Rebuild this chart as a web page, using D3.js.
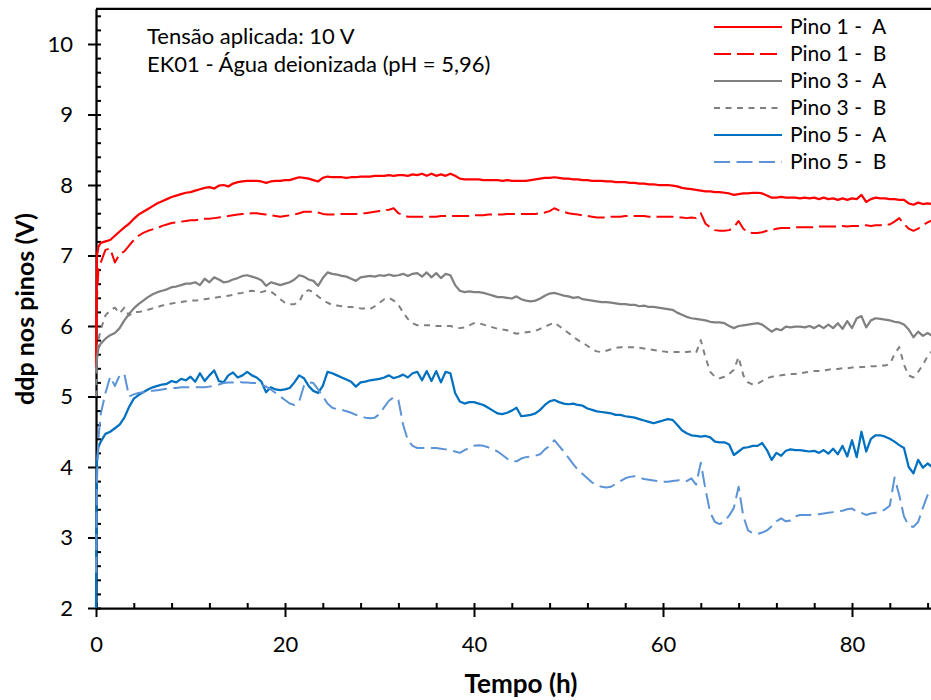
<!DOCTYPE html>
<html>
<head>
<meta charset="utf-8">
<script src="https://cdn.jsdelivr.net/npm/d3@7"></script>
<style>
  html, body { margin: 0; padding: 0; background: #fff; }
  svg { display: block; }
  text { font-family: Lato, "Open Sans", sans-serif; fill: #000; }
</style>
</head>
<body>
<svg id="chart" width="931" height="700"></svg>
<script>
// Sampling grid (hours): a few early readings, then every half hour
const hours = [0, 0.1, 0.25].concat(d3.range(0.5, 88.51, 0.5));

const pino1A = [5.4, 7.0, 7.12,
  7.18, 7.2, 7.22, 7.28, 7.34, 7.4, 7.45, 7.52, 7.58, 7.62, 7.66, 7.7, 7.74, 7.77, 7.8, 7.83, 7.85, 7.87, 7.89, 7.9,
  7.92, 7.94, 7.96, 7.97, 7.95, 7.99, 8.0, 7.98, 8.02, 8.04, 8.05, 8.06, 8.06, 8.06, 8.05, 8.03, 8.05, 8.06, 8.06, 8.07,
  8.07, 8.09, 8.11, 8.1, 8.09, 8.07, 8.05, 8.1, 8.12, 8.11, 8.11, 8.11, 8.1, 8.11, 8.11, 8.12, 8.12, 8.12, 8.13, 8.13,
  8.13, 8.14, 8.13, 8.14, 8.14, 8.13, 8.15, 8.14, 8.16, 8.13, 8.16, 8.13, 8.15, 8.13, 8.16, 8.13, 8.09, 8.08, 8.08, 8.08,
  8.08, 8.07, 8.07, 8.07, 8.07, 8.06, 8.07, 8.06, 8.06, 8.06, 8.06, 8.07, 8.08, 8.09, 8.1, 8.1, 8.11, 8.1, 8.09, 8.09,
  8.08, 8.08, 8.07, 8.07, 8.06, 8.06, 8.06, 8.05, 8.05, 8.04, 8.04, 8.04, 8.03, 8.03, 8.02, 8.02, 8.01, 8.01, 8.0, 8.0,
  8.0, 7.99, 7.98, 7.96, 7.95, 7.94, 7.93, 7.92, 7.91, 7.91, 7.9, 7.9, 7.89, 7.88, 7.86, 7.87, 7.88, 7.88, 7.89, 7.89,
  7.88, 7.85, 7.82, 7.82, 7.83, 7.82, 7.82, 7.82, 7.81, 7.82, 7.81, 7.82, 7.8, 7.82, 7.8, 7.81, 7.79, 7.81, 7.79, 7.81,
  7.8, 7.86, 7.76, 7.8, 7.82, 7.81, 7.81, 7.8, 7.8, 7.79, 7.79, 7.74, 7.72, 7.75, 7.73, 7.74, 7.73];

const pino1B = [5.6, 6.4, 6.8,
  6.9, 7.08, 7.1, 6.9, 7.02, 7.06, 7.14, 7.22, 7.28, 7.32, 7.35, 7.37, 7.39, 7.42, 7.44, 7.46, 7.47, 7.48, 7.49, 7.5,
  7.5, 7.51, 7.52, 7.52, 7.53, 7.54, 7.55, 7.56, 7.57, 7.58, 7.59, 7.59, 7.6, 7.6, 7.59, 7.58, 7.57, 7.56, 7.55, 7.56,
  7.57, 7.58, 7.6, 7.62, 7.62, 7.62, 7.61, 7.59, 7.58, 7.58, 7.58, 7.59, 7.59, 7.59, 7.59, 7.6, 7.6, 7.61, 7.62, 7.63,
  7.64, 7.65, 7.67, 7.6, 7.57, 7.55, 7.55, 7.55, 7.55, 7.55, 7.55, 7.55, 7.56, 7.56, 7.56, 7.56, 7.56, 7.56, 7.56, 7.57,
  7.57, 7.57, 7.58, 7.58, 7.58, 7.58, 7.59, 7.59, 7.59, 7.59, 7.59, 7.59, 7.59, 7.6, 7.61, 7.63, 7.67, 7.64, 7.62, 7.6,
  7.59, 7.58, 7.57, 7.56, 7.55, 7.54, 7.54, 7.54, 7.55, 7.55, 7.55, 7.56, 7.56, 7.56, 7.56, 7.56, 7.55, 7.55, 7.55, 7.55,
  7.55, 7.55, 7.54, 7.54, 7.53, 7.54, 7.53, 7.6, 7.45, 7.4, 7.36, 7.35, 7.35, 7.36, 7.4, 7.49, 7.38, 7.33, 7.32, 7.32,
  7.33, 7.35, 7.36, 7.38, 7.39, 7.39, 7.39, 7.4, 7.4, 7.4, 7.4, 7.4, 7.41, 7.41, 7.41, 7.41, 7.41, 7.42, 7.41, 7.42,
  7.42, 7.42, 7.43, 7.42, 7.43, 7.43, 7.44, 7.44, 7.48, 7.53, 7.45, 7.38, 7.35, 7.38, 7.43, 7.47, 7.5];

const pino3A = [5.35, 5.55, 5.68,
  5.75, 5.82, 5.87, 5.9, 5.97, 6.08, 6.17, 6.25, 6.31, 6.36, 6.41, 6.45, 6.48, 6.5, 6.52, 6.55, 6.56, 6.58, 6.6, 6.6,
  6.62, 6.58, 6.67, 6.62, 6.69, 6.66, 6.62, 6.63, 6.66, 6.68, 6.71, 6.72, 6.7, 6.68, 6.65, 6.57, 6.62, 6.6, 6.58, 6.6,
  6.62, 6.66, 6.72, 6.7, 6.66, 6.64, 6.57, 6.68, 6.76, 6.74, 6.73, 6.71, 6.7, 6.67, 6.64, 6.69, 6.7, 6.71, 6.7, 6.72,
  6.71, 6.73, 6.71, 6.72, 6.74, 6.71, 6.74, 6.75, 6.7, 6.76, 6.69, 6.75, 6.68, 6.74, 6.72, 6.58, 6.5, 6.48, 6.49, 6.48,
  6.48, 6.47, 6.45, 6.43, 6.41, 6.41, 6.4, 6.39, 6.42, 6.38, 6.36, 6.35, 6.36, 6.39, 6.43, 6.46, 6.47, 6.45, 6.43, 6.42,
  6.4, 6.41, 6.38, 6.37, 6.36, 6.35, 6.34, 6.34, 6.33, 6.32, 6.31, 6.31, 6.3, 6.3, 6.28, 6.29, 6.27, 6.27, 6.26, 6.25,
  6.24, 6.23, 6.19, 6.16, 6.13, 6.11, 6.1, 6.09, 6.08, 6.06, 6.05, 6.05, 6.04, 6.0, 5.97, 6.0, 6.01, 6.02, 6.03, 6.04,
  6.02, 5.97, 5.92, 5.96, 5.94, 5.99, 5.98, 5.99, 5.99, 5.98, 6.0, 5.97, 6.01, 5.97, 6.02, 5.97, 6.04, 5.96, 6.07, 5.97,
  6.11, 6.14, 5.98, 6.08, 6.11, 6.1, 6.09, 6.08, 6.06, 6.05, 6.02, 5.95, 5.84, 5.92, 5.86, 5.9, 5.86];

const pino3B = [5.0, 5.5, 5.8,
  5.95, 6.15, 6.22, 6.26, 6.18, 6.26, 6.15, 6.2, 6.2, 6.21, 6.23, 6.25, 6.27, 6.29, 6.3, 6.32, 6.33, 6.34, 6.35, 6.36,
  6.36, 6.37, 6.38, 6.39, 6.4, 6.41, 6.42, 6.43, 6.44, 6.46, 6.47, 6.49, 6.5, 6.49, 6.48, 6.5, 6.49, 6.44, 6.38, 6.33,
  6.31, 6.31, 6.34, 6.48, 6.51, 6.48, 6.42, 6.37, 6.33, 6.3, 6.29, 6.28, 6.27, 6.27, 6.26, 6.25, 6.25, 6.24, 6.28, 6.33,
  6.38, 6.4, 6.36, 6.3, 6.19, 6.1, 6.04, 6.01, 6.01, 6.01, 6.01, 6.0, 6.0, 6.0, 6.0, 5.98, 5.97, 5.98, 6.01, 6.04,
  6.04, 6.02, 6.0, 5.98, 5.96, 5.95, 5.94, 5.91, 5.89, 5.9, 5.91, 5.92, 5.93, 5.96, 5.99, 6.02, 6.05, 6.0, 5.95, 5.9,
  5.85, 5.8, 5.76, 5.72, 5.67, 5.64, 5.63, 5.65, 5.67, 5.69, 5.7, 5.7, 5.7, 5.7, 5.69, 5.68, 5.67, 5.66, 5.65, 5.64,
  5.63, 5.63, 5.63, 5.63, 5.63, 5.64, 5.62, 5.8, 5.55, 5.35, 5.28, 5.26, 5.28, 5.32, 5.38, 5.56, 5.3, 5.2, 5.17, 5.18,
  5.22, 5.26, 5.28, 5.29, 5.3, 5.31, 5.32, 5.32, 5.33, 5.34, 5.35, 5.36, 5.36, 5.37, 5.38, 5.39, 5.39, 5.4, 5.4, 5.41,
  5.41, 5.42, 5.42, 5.43, 5.43, 5.44, 5.44, 5.46, 5.6, 5.7, 5.45, 5.3, 5.27, 5.35, 5.45, 5.57, 5.65];

const pino5A = [2.0, 4.1, 4.28,
  4.36, 4.47, 4.5, 4.55, 4.6, 4.7, 4.85, 4.97, 5.02, 5.06, 5.1, 5.13, 5.15, 5.17, 5.18, 5.22, 5.2, 5.25, 5.23, 5.28,
  5.21, 5.33, 5.22, 5.3, 5.37, 5.22, 5.2, 5.3, 5.34, 5.27, 5.3, 5.35, 5.3, 5.27, 5.21, 5.06, 5.13, 5.1, 5.09, 5.1,
  5.12, 5.2, 5.3, 5.26, 5.15, 5.08, 5.05, 5.15, 5.35, 5.33, 5.3, 5.27, 5.24, 5.21, 5.14, 5.2, 5.21, 5.23, 5.24, 5.25,
  5.27, 5.3, 5.26, 5.28, 5.31, 5.27, 5.33, 5.35, 5.23, 5.36, 5.22, 5.36, 5.2, 5.35, 5.33, 5.05, 4.93, 4.9, 4.92, 4.92,
  4.9, 4.88, 4.84, 4.8, 4.76, 4.75, 4.77, 4.8, 4.84, 4.72, 4.73, 4.74, 4.76, 4.81, 4.88, 4.93, 4.95, 4.92, 4.9, 4.89,
  4.9, 4.88, 4.87, 4.83, 4.81, 4.79, 4.78, 4.77, 4.76, 4.74, 4.74, 4.72, 4.71, 4.7, 4.68, 4.66, 4.64, 4.62, 4.64, 4.66,
  4.68, 4.67, 4.6, 4.52, 4.48, 4.45, 4.44, 4.43, 4.44, 4.42, 4.36, 4.35, 4.35, 4.32, 4.17, 4.22, 4.27, 4.28, 4.3, 4.3,
  4.34, 4.24, 4.1, 4.2, 4.16, 4.23, 4.25, 4.24, 4.24, 4.23, 4.22, 4.23, 4.2, 4.24, 4.19, 4.26, 4.18, 4.3, 4.15, 4.38,
  4.14, 4.5, 4.22, 4.4, 4.45, 4.45, 4.43, 4.4, 4.36, 4.31, 4.27, 4.0, 3.91, 4.1, 3.99, 4.05, 4.0];

const pino5B = [2.5, 3.8, 4.4,
  4.75, 5.05, 5.28, 5.15, 5.3, 5.32, 5.0, 5.03, 5.05, 5.06, 5.07, 5.08, 5.09, 5.1, 5.11, 5.12, 5.12, 5.13, 5.13, 5.13,
  5.13, 5.13, 5.13, 5.14, 5.15, 5.17, 5.19, 5.2, 5.2, 5.21, 5.2, 5.2, 5.19, 5.19, 5.17, 5.14, 5.1, 5.05, 5.0, 4.95,
  4.9, 4.88, 4.93, 5.15, 5.2, 5.19, 5.1, 5.0, 4.9, 4.84, 4.82, 4.81, 4.79, 4.77, 4.74, 4.72, 4.7, 4.69, 4.7, 4.75,
  4.85, 4.94, 4.99, 4.95, 4.6, 4.38, 4.3, 4.27, 4.27, 4.27, 4.27, 4.27, 4.26, 4.25, 4.24, 4.22, 4.2, 4.24, 4.27, 4.3,
  4.31, 4.3, 4.28, 4.25, 4.22, 4.17, 4.12, 4.08, 4.08, 4.12, 4.14, 4.15, 4.16, 4.18, 4.25, 4.3, 4.38, 4.3, 4.22, 4.13,
  4.04, 3.96, 3.9, 3.84, 3.78, 3.74, 3.72, 3.71, 3.72, 3.76, 3.8, 3.84, 3.86, 3.87, 3.85, 3.83, 3.82, 3.81, 3.8, 3.79,
  3.79, 3.8, 3.81, 3.82, 3.8, 3.84, 3.75, 4.06, 3.68, 3.35, 3.22, 3.19, 3.23, 3.31, 3.42, 3.72, 3.3, 3.1, 3.06, 3.05,
  3.07, 3.1, 3.16, 3.23, 3.27, 3.23, 3.24, 3.3, 3.32, 3.32, 3.32, 3.33, 3.33, 3.34, 3.35, 3.36, 3.37, 3.38, 3.4, 3.41,
  3.37, 3.35, 3.32, 3.34, 3.35, 3.36, 3.4, 3.45, 3.85, 3.6, 3.3, 3.17, 3.15, 3.22, 3.42, 3.6, 3.7];

const seriesNames = ["Pino 1 -  A", "Pino 1 -  B", "Pino 3 -  A", "Pino 3 -  B", "Pino 5 -  A", "Pino 5 -  B"];
const seriesValues = [pino1A, pino1B, pino3A, pino3B, pino5A, pino5B];
const seriesColors = ["#FF0000", "#FF0000", "#808080", "#808080", "#0070C0", "#5B93D6"];
const seriesDash = [null, "17,6", null, "6,5.5", null, "16,6.5"];

const xMajorTicks = [0, 20, 40, 60, 80];
const xMinorTicks = d3.range(0, 90.01, 4).filter(v => v % 20 !== 0);
const yMajorTicks = [2, 3, 4, 5, 6, 7, 8, 9, 10];
const yMinorTicks = d3.range(20, 105, 2).filter(v => v % 10 !== 0).map(v => v / 10);

const notes = ["Tensão aplicada: 10 V", "EK01 - Água deionizada (pH = 5,96)"];
const xTitle = "Tempo (h)";
const yTitle = "ddp nos pinos (V)";

const svg = d3.select("#chart");
const plotLeft = 96, plotBottom = 608, plotTop = 8.75, plotRight = 946.5;

const x = d3.scaleLinear().domain([0, 90]).range([plotLeft, plotRight]);
const y = d3.scaleLinear().domain([2, 10.5]).range([plotBottom, plotTop]);

function styleAxis(g) {
  g.selectAll("path.domain").attr("stroke", "#000").attr("stroke-width", 2.25);
  g.selectAll(".tick line").attr("stroke", "#000").attr("stroke-width", 2);
  g.selectAll(".tick text").style("font-family", "Lato, sans-serif").style("font-size", "22px").attr("fill", "#000");
}

// shrink or grow a text node's font so that it spans the given width
function fitWidth(sel, width) {
  const base = parseFloat(sel.style("font-size"));
  const w = sel.node().getComputedTextLength();
  sel.style("font-size", (base * width / w).toFixed(2) + "px");
}

// top frame line
svg.append("line")
  .attr("x1", plotLeft).attr("x2", plotRight).attr("y1", plotTop).attr("y2", plotTop)
  .attr("stroke", "#000").attr("stroke-width", 2.25);

// y axis: outward majors with labels, inward majors and minors
svg.append("g").attr("transform", `translate(${plotLeft},0)`)
  .call(d3.axisLeft(y).tickValues(yMajorTicks).tickSize(8).tickSizeOuter(0).tickPadding(15).tickFormat(d3.format("d")))
  .call(styleAxis);
svg.append("g").attr("transform", `translate(${plotLeft},0)`)
  .call(d3.axisRight(y).tickValues(yMajorTicks.concat(yMinorTicks)).tickSize(5).tickSizeOuter(0).tickFormat(""))
  .call(g => g.select("path.domain").remove())
  .call(styleAxis);

// x axis
svg.append("g").attr("transform", `translate(0,${plotBottom})`)
  .call(d3.axisBottom(x).tickValues(xMajorTicks).tickSize(9).tickSizeOuter(0).tickPadding(19).tickFormat(d3.format("d")))
  .call(styleAxis);
svg.append("g").attr("transform", `translate(0,${plotBottom})`)
  .call(d3.axisTop(x).tickValues(xMajorTicks.concat(xMinorTicks)).tickSize(5).tickSizeOuter(0).tickFormat(""))
  .call(g => g.select("path.domain").remove())
  .call(styleAxis);

// series
svg.append("clipPath").attr("id", "plotClip")
  .append("rect").attr("x", plotLeft - 2).attr("y", plotTop).attr("width", plotRight - plotLeft + 2).attr("height", plotBottom - plotTop + 1);

const line = d3.line().x((d, i) => x(hours[i])).y(d => y(d));
const plot = svg.append("g").attr("clip-path", "url(#plotClip)");
seriesValues.forEach((vals, k) => {
  plot.append("path")
    .datum(vals)
    .attr("d", line)
    .attr("fill", "none")
    .attr("stroke", seriesColors[k])
    .attr("stroke-width", seriesDash[k] ? 2 : 2.25)
    .attr("stroke-linejoin", "round")
    .attr("stroke-dasharray", seriesDash[k]);
});

// axis titles
svg.append("text")
  .attr("x", 521).attr("y", 693)
  .attr("text-anchor", "middle")
  .style("font-size", "22px").style("font-weight", "bold")
  .text(xTitle)
  .call(fitWidth, 113);
svg.append("text")
  .attr("transform", "translate(34,309) rotate(-90)")
  .attr("text-anchor", "middle")
  .style("font-size", "22px").style("font-weight", "bold")
  .text(yTitle)
  .call(fitWidth, 192);

// notes
notes.forEach((t, i) => {
  svg.append("text")
    .attr("x", 147).attr("y", 44 + i * 28)
    .style("font-size", "22px")
    .text(t);
});

// legend
const legend = svg.append("g");
seriesNames.forEach((name, k) => {
  const cy = 27 + k * 27;
  legend.append("line")
    .attr("x1", 714).attr("x2", 782).attr("y1", cy).attr("y2", cy)
    .attr("stroke", seriesColors[k]).attr("stroke-width", 2)
    .attr("stroke-dasharray", seriesDash[k]);
  legend.append("text")
    .attr("x", 790).attr("y", cy + 7)
    .style("font-size", "21px")
    .style("white-space", "pre")
    .attr("xml:space", "preserve")
    .text(name);
});
</script>
</body>
</html>
